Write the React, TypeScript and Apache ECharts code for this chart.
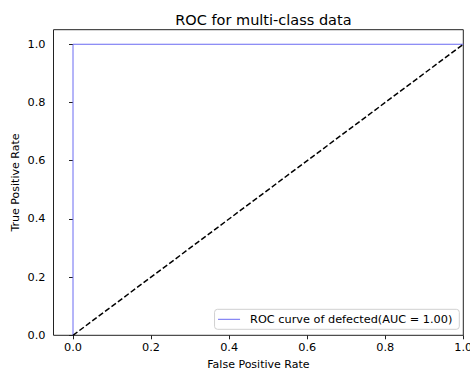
import React, { useEffect, useRef } from "react";
import * as echarts from "echarts";

const titleText = "ROC for multi-class data";
const xName = "False Positive Rate";
const yName = "True Positive Rate";
const xTicks = [0.0, 0.2, 0.4, 0.6, 0.8, 1.0];
const yTicks = [0.0, 0.2, 0.4, 0.6, 0.8, 1.0];
const rocName = "ROC curve of defected(AUC = 1.00)";
const rocFpr = [0.0, 0.0, 1.0];
const rocTpr = [0.0, 1.0, 1.0];
const diagX = [0.0, 1.0];
const diagY = [0.0, 1.0];

const FONT = "DejaVu Sans";
const BLUE = "#6a6af2";

export default function App() {
  const ref = useRef<HTMLDivElement>(null);
  useEffect(() => {
    if (!ref.current) return;
    const chart = echarts.init(ref.current, null, { renderer: "svg" });
    const option: any = {
      animation: false,
      backgroundColor: "#ffffff",
      textStyle: { fontFamily: FONT },
      title: {
        text: titleText,
        left: 258.4,
        top: 7,
        textAlign: "center",
        textStyle: { fontFamily: FONT, fontSize: 14.5, fontWeight: "normal", color: "#000" },
      },
      grid: {
        left: 53.5,
        right: 6.7,
        top: 29.7,
        bottom: 35.7,
        show: true,
        borderColor: "#222",
        borderWidth: 1,
        backgroundColor: "transparent",
        containLabel: false,
        outerBoundsMode: "none",
      },
      xAxis: {
        type: "value",
        min: -0.05,
        max: 1.0,
        axisLine: { show: false },
        splitLine: { show: false },
        axisTick: { show: true, length: 4, customValues: xTicks, lineStyle: { color: "#222", width: 1 } },
        axisLabel: {
          customValues: xTicks,
          formatter: (v: number) => v.toFixed(1),
          margin: 7,
          fontSize: 11.3,
          fontFamily: FONT,
          color: "#000",
          showMinLabel: true,
          showMaxLabel: true,
        },
      },
      yAxis: {
        type: "value",
        min: 0,
        max: 1.05,
        axisLine: { show: false },
        splitLine: { show: false },
        axisTick: { show: true, length: 4, customValues: yTicks, lineStyle: { color: "#222", width: 1 } },
        axisLabel: {
          customValues: yTicks,
          formatter: (v: number) => v.toFixed(1),
          margin: 8,
          fontSize: 11.3,
          fontFamily: FONT,
          color: "#000",
          showMinLabel: true,
          showMaxLabel: true,
        },
      },
      legend: {
        data: [{ name: rocName, icon: "rect" }],
        right: 10.7,
        bottom: 41.7,
        orient: "vertical",
        itemWidth: 22,
        itemHeight: 1,
        itemGap: 0,
        padding: [4.5, 7, 4.5, 3.5],
        borderColor: "#d0d0d0",
        borderWidth: 1,
        borderRadius: 3,
        backgroundColor: "rgba(255,255,255,0.8)",
        itemStyle: { color: BLUE, borderWidth: 0 },
        textStyle: { fontFamily: FONT, fontSize: 11.3, color: "#000", padding: [0, 0, 0, 5] },
      },
      graphic: [
        {
          type: "text",
          x: 258.4,
          y: 364,
          style: { text: xName, fontFamily: FONT, fontSize: 11, fill: "#000", align: "center", verticalAlign: "middle" },
        },
        {
          type: "text",
          x: 15.5,
          y: 182.5,
          rotation: Math.PI / 2,
          style: { text: yName, fontFamily: FONT, fontSize: 11, fill: "#000", align: "center", verticalAlign: "middle" },
        },
      ],
      series: [
        {
          name: rocName,
          type: "line",
          data: rocFpr.map((x, i) => [x, rocTpr[i]]),
          symbol: "none",
          lineStyle: { color: BLUE, width: 1 },
          itemStyle: { color: BLUE },
        },
        {
          name: "chance",
          type: "line",
          data: diagX.map((x, i) => [x, diagY[i]]),
          symbol: "none",
          lineStyle: { color: "#000", width: 1.5, type: [5.5, 2.5] },
          itemStyle: { color: "#000" },
        },
      ],
    };
    chart.setOption(option);
    return () => chart.dispose();
  }, []);
  return (
    <div
      ref={ref}
      style={{ position: "fixed", left: 0, top: 0, width: 470, height: 371 }}
    />
  );
}
